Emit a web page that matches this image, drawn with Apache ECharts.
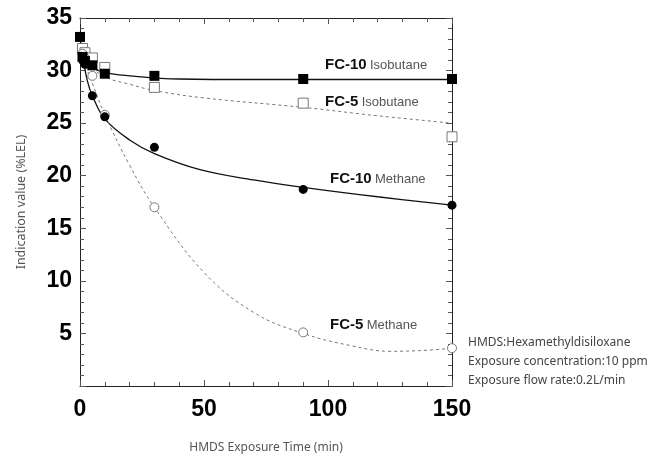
<!DOCTYPE html>
<html>
<head>
<meta charset="utf-8">
<script src="https://cdn.jsdelivr.net/npm/echarts@6/dist/echarts.min.js"></script>
<style>
  html, body { margin: 0; padding: 0; background: #fff; }
  #chart { width: 659px; height: 459px; }
</style>
</head>
<body>
<div id="chart"></div>
<script>
// measured points [time (min), indication (%LEL)]
const fc10Isobutane = [[0, 33.2], [1, 31.3], [2, 30.9], [5, 30.5], [10, 29.7], [30, 29.5], [90, 29.2], [150, 29.2]];
const fc5Isobutane = [[1, 32.1], [2, 31.7], [5, 31.2], [10, 30.3], [30, 28.4], [90, 26.9], [150, 23.7]];
const fc10Methane = [[1, 31.0], [2, 30.6], [5, 27.6], [10, 25.6], [30, 22.7], [90, 18.7], [150, 17.2]];
const fc5Methane = [[1, 31.6], [2, 31.2], [5, 29.5], [10, 25.8], [30, 17.0], [90, 5.1], [150, 3.6]];

// trend curves
const fc10IsobutaneFit = [[0, 33.2], [2, 31.0], [5, 30.3], [10, 29.8], [20, 29.5], [40, 29.2], [70, 29.15], [150, 29.15]];
const fc5IsobutaneFit = [[3, 30.6], [10, 29.4], [20, 28.7], [30, 28.1], [50, 27.4], [90, 26.5], [120, 25.7], [150, 25.0]];
const fc10MethaneFit = [[1, 31.5], [3, 29.0], [5, 27.6], [10, 25.4], [20, 23.4], [30, 22.1], [48, 20.6], [70, 19.6], [90, 18.9], [120, 18.0], [150, 17.2]];
const fc5MethaneFit = [[1, 31.5], [3, 30.0], [5, 28.8], [10, 25.8], [20, 21.0], [30, 17.0], [50, 10.8], [70, 7.0], [90, 5.0], [110, 3.8], [125, 3.3], [140, 3.4], [150, 3.6]];

const notes = ["HMDS:Hexamethyldisiloxane", "Exposure concentration:10 ppm", "Exposure flow rate:0.2L/min"];

const chart = echarts.init(document.getElementById("chart"));

const tickStyle = { color: "#555", width: 1 };
const baseX = {
  type: "value", min: 0, max: 150, interval: 50,
  axisLine: { show: true, onZero: false, lineStyle: { color: "#222", width: 1 } },
  axisTick: { inside: true, length: 6, lineStyle: tickStyle },
  minorTick: { show: true, splitNumber: 5, length: 4, lineStyle: tickStyle },
  splitLine: { show: false },
};
const baseY = {
  type: "value", min: 0, max: 35, interval: 5,
  axisLine: { show: true, onZero: false, lineStyle: { color: "#222", width: 1 } },
  axisTick: { inside: true, length: 6, lineStyle: tickStyle },
  minorTick: { show: true, splitNumber: 5, length: 4, lineStyle: tickStyle },
  splitLine: { show: false },
};
const bigLabel = { fontFamily: "Liberation Sans", fontWeight: "bold", fontSize: 23, color: "#000" };
const titleFont = { fontFamily: "Noto Sans", fontSize: 12, color: "#555" };

function fitLine(data, dashed) {
  return {
    type: "line", data, smooth: 0.4, symbol: "none", silent: true,
    lineStyle: dashed ? { color: "#777", width: 1, type: [3, 3] } : { color: "#111", width: 1.3 },
    z: 1,
  };
}
function points(data, shape, filled) {
  return {
    type: "scatter", data, symbol: shape, symbolSize: shape === "rect" ? 10 : 9,
    itemStyle: filled
      ? { color: "#000", opacity: 1 }
      : { color: "#fff", borderColor: "#777", borderWidth: 1, opacity: 1 },
    z: 3,
  };
}

const labelText = (a, b) => ({
  type: "text",
  style: {
    text: `{a|${a}} {b|${b}}`,
    rich: {
      a: { fontFamily: "Liberation Sans", fontWeight: "bold", fontSize: 15, fill: "#111" },
      b: { fontFamily: "Liberation Sans", fontSize: 13, fill: "#555" },
    },
    verticalAlign: "middle",
  },
});

chart.setOption({
  animation: false,
  grid: { left: 80, right: 207, top: 18, bottom: 71 },
  xAxis: [
    Object.assign({}, baseX, {
      position: "bottom",
      axisLabel: Object.assign({ margin: 12 }, bigLabel),
      name: "HMDS Exposure Time (min)", nameLocation: "middle", nameGap: 56,
      nameTextStyle: titleFont,
    }),
    Object.assign({}, baseX, { position: "top", axisLabel: { show: false } }),
  ],
  yAxis: [
    Object.assign({}, baseY, {
      position: "left",
      axisLabel: Object.assign({ margin: 8, showMinLabel: false }, bigLabel),
      name: "Indication value (%LEL)", nameLocation: "middle", nameGap: 52,
      nameTextStyle: Object.assign({}, titleFont, { fontSize: 12.5 }),
    }),
    Object.assign({}, baseY, { position: "right", axisLabel: { show: false } }),
  ],
  series: [
    fitLine(fc10IsobutaneFit, false),
    fitLine(fc5IsobutaneFit, true),
    fitLine(fc10MethaneFit, false),
    fitLine(fc5MethaneFit, true),
    points(fc5Isobutane, "rect", false),
    points(fc5Methane, "circle", false),
    points(fc10Isobutane, "rect", true),
    points(fc10Methane, "circle", true),
  ],
  graphic: [
    Object.assign(labelText("FC-10", "Isobutane"), { x: 325, y: 65 }),
    Object.assign(labelText("FC-5", "Isobutane"), { x: 325, y: 102 }),
    Object.assign(labelText("FC-10", "Methane"), { x: 330, y: 179 }),
    Object.assign(labelText("FC-5", "Methane"), { x: 330, y: 325 }),
    ...notes.map((t, i) => ({
      type: "text", x: 468, y: 343 + i * 19,
      style: { text: t, fontFamily: "Noto Sans", fontSize: 12, fill: "#444", verticalAlign: "middle" },
    })),
  ],
});
</script>
</body>
</html>
